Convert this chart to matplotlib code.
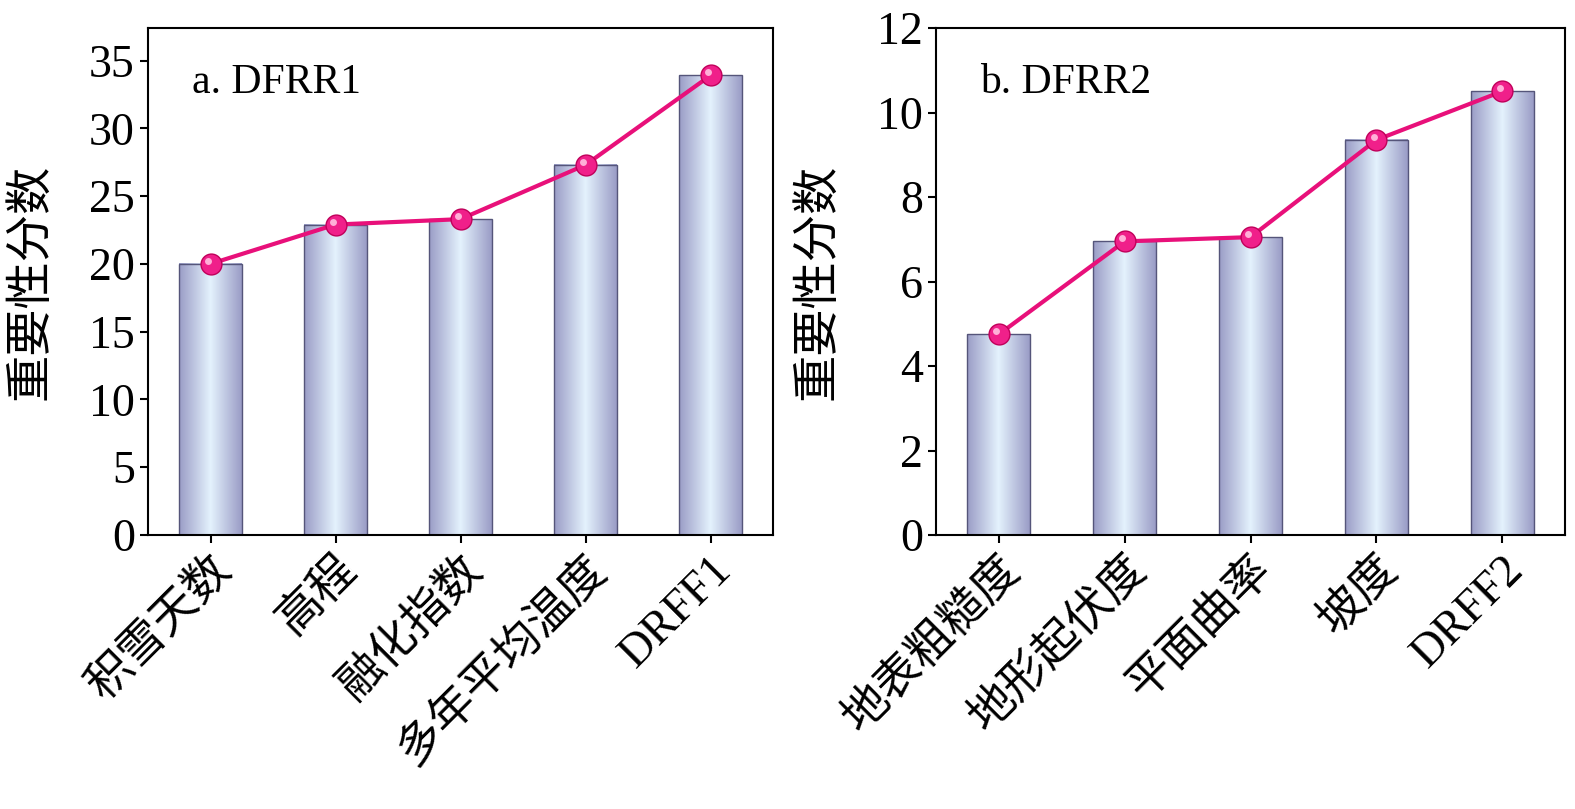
import matplotlib
matplotlib.use("Agg")
import matplotlib.pyplot as plt
import numpy as np
from matplotlib.colors import LinearSegmentedColormap

plt.rcParams['font.family'] = ['Liberation Serif', 'Noto Sans CJK SC']

cats_a = ['积雪天数', '高程', '融化指数', '多年平均温度', 'DRFF1']
vals_a = [20.0, 22.9, 23.3, 27.3, 33.9]
cats_b = ['地表粗糙度', '地形起伏度', '平面曲率', '坡度', 'DRFF2']
vals_b = [4.75, 6.95, 7.05, 9.35, 10.5]

cmap = LinearSegmentedColormap.from_list('bar', ['#9a9cc6', '#e4f2fd', '#9a9cc6'])
grad = np.linspace(0, 1, 256)[None, :]

fig = plt.figure(figsize=(15.75, 8.09), dpi=100)
ax1 = fig.add_axes([148/1575, 1-535/809, 625/1575, 507/809])
ax2 = fig.add_axes([936/1575, 1-535/809, 629/1575, 507/809])

def draw(ax, cats, vals, ylim, yticks, title):
    x = np.arange(len(cats))
    w = 0.5
    bars = ax.bar(x, vals, width=w, color='none', edgecolor='#55557a', linewidth=1, zorder=2)
    for b in bars:
        ax.imshow(grad, cmap=cmap, aspect='auto', zorder=1,
                  extent=[b.get_x(), b.get_x()+w, 0, b.get_height()])
    ax.plot(x, vals, color='#e8107a', lw=3, zorder=3)
    ax.plot(x, vals, 'o', ms=15, mfc='#f0208a', mec='#c0005a', mew=1, zorder=4)
    ax.plot(x-0.02, np.array(vals)+ylim[1]*0.006, 'o', ms=5, mfc='#ffb0d8', mec='none', zorder=5)
    ax.set_xlim(-0.5, len(cats)-0.5)
    ax.set_ylim(*ylim)
    ax.set_yticks(yticks)
    ax.set_xticks(x)
    ax.set_xticklabels(cats, rotation=45, ha='right', rotation_mode='anchor', fontsize=33)
    ax.tick_params(axis='y', labelsize=33, length=6, width=1.5)
    ax.tick_params(axis='x', length=6, width=1.5)
    ax.set_ylabel('重要性分数', fontsize=34, family=['Noto Sans CJK SC'])
    for s in ax.spines.values():
        s.set_linewidth(1.5)
    ax.text(0.07, 0.93, title, transform=ax.transAxes, fontsize=30, va='top')

draw(ax1, cats_a, vals_a, (0, 37.4), range(0, 36, 5), 'a. DFRR1')
draw(ax2, cats_b, vals_b, (0, 12), range(0, 13, 2), 'b. DFRR2')
ax1.yaxis.set_label_coords(-0.15, 0.5)
ax2.yaxis.set_label_coords(-0.15, 0.5)

fig.savefig('out.png', dpi=100)
